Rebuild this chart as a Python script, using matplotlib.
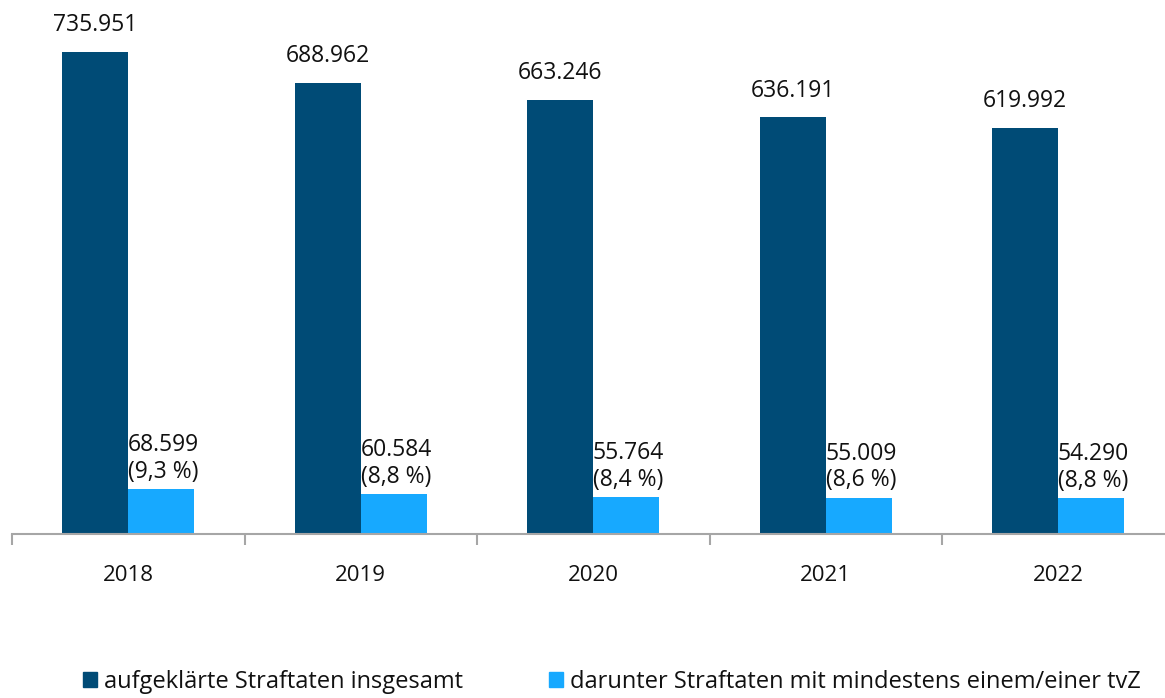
import matplotlib
matplotlib.use("Agg")
import matplotlib.pyplot as plt
from matplotlib.patches import Patch
import numpy as np

years = ["2018", "2019", "2020", "2021", "2022"]
total = [735951, 688962, 663246, 636191, 619992]
tvz = [68599, 60584, 55764, 55009, 54290]
tvz_share = ["9,3", "8,8", "8,4", "8,6", "8,8"]
series_labels = ["aufgeklärte Straftaten insgesamt",
                 "darunter Straftaten mit mindestens einem/einer tvZ"]

DARK = "#004B76"
LIGHT = "#17A9FF"
AXIS = "#A6A6A6"

plt.rcParams["font.family"] = ["Open Sans", "DejaVu Sans"]

fig = plt.figure(figsize=(11.65, 6.98), dpi=100)
ax = fig.add_axes([12 / 1165, 164 / 698, 1162.5 / 1165, 534 / 698])

def fmt(v):
    return f"{v:,}".replace(",", ".")

x = np.arange(len(years))
w = 0.284
ax.bar(x - w / 2, total, width=w, color=DARK, zorder=2)
ax.bar(x + w / 2, tvz, width=w, color=LIGHT, zorder=2)

for xi, v in zip(x, total):
    ax.annotate(fmt(v), (xi - w / 2, v), xytext=(0, 10.5), textcoords="offset points",
                ha="center", va="bottom", fontsize=16.5, color="#111111")
for xi, v, s in zip(x, tvz, tvz_share):
    ax.annotate(f"{fmt(v)}\n({s} %)", (xi + w / 2 + 0.01, v), xytext=(0, 4),
                textcoords="offset points", ha="center", va="bottom",
                fontsize=16.5, color="#111111", linespacing=1.15)

ax.set_xlim(-0.5, 4.5)
ax.set_ylim(0, 815350)
ax.set_yticks([])
for side in ("top", "right", "left"):
    ax.spines[side].set_visible(False)
ax.spines["bottom"].set_color(AXIS)
ax.spines["bottom"].set_linewidth(1.5)

ax.set_xticks(np.arange(-0.5, 5.0, 1.0))
ax.set_xticklabels([])
ax.tick_params(axis="x", which="major", length=8, width=1.5, color=AXIS)
ax.set_xticks(x, minor=True)
ax.set_xticklabels(years, minor=True)
ax.tick_params(axis="x", which="minor", length=0, pad=22, labelsize=16, labelcolor="#111111")

handles = [Patch(color=DARK), Patch(color=LIGHT)]
fig.legend(handles, series_labels, ncol=2, loc="lower left",
           bbox_to_anchor=(62 / 1165, -17 / 698), frameon=False, fontsize=17,
           handlelength=0.6, handleheight=0.6, handletextpad=0.3,
           columnspacing=3.6, labelcolor="#111111")

fig.savefig("out.png", dpi=100)
